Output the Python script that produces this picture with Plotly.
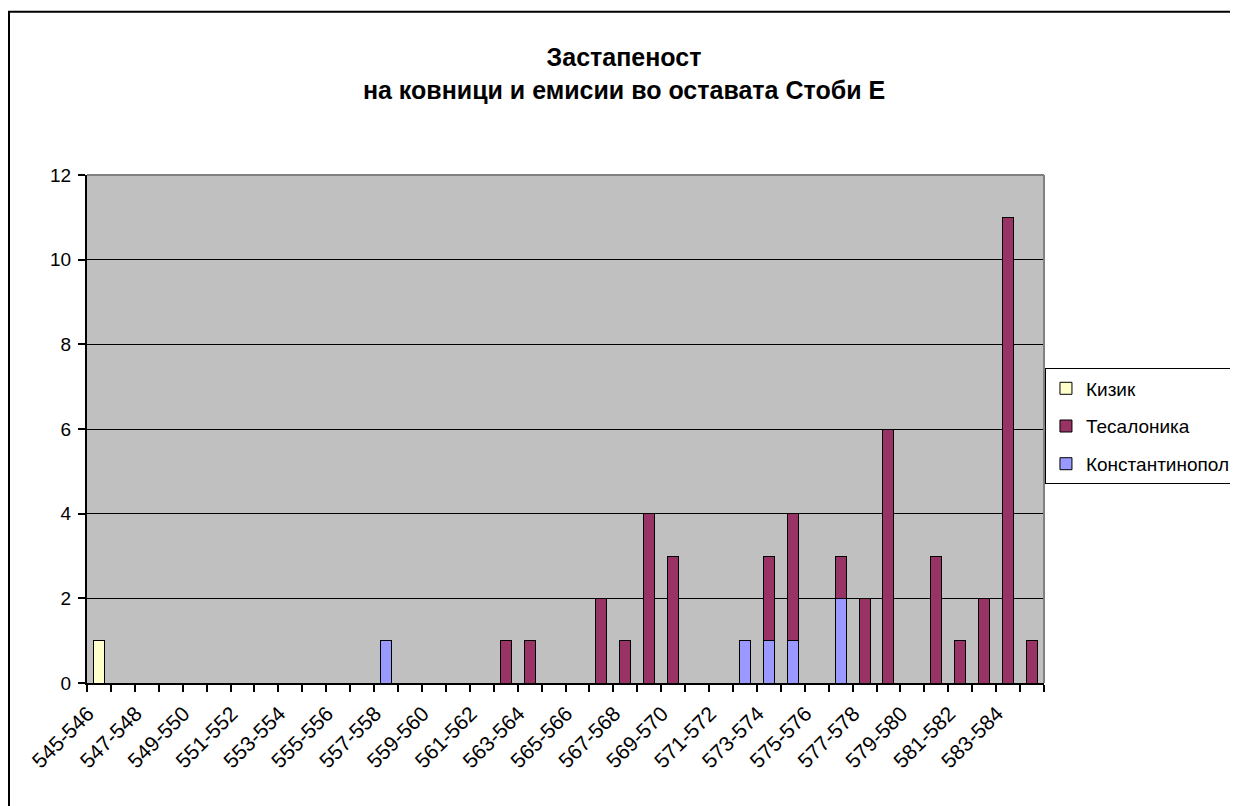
import plotly.graph_objects as go

categories = [
    "545-546", "546-547", "547-548", "548-549", "549-550", "550-551", "551-552", "552-553",
    "553-554", "554-555", "555-556", "556-557", "557-558", "558-559", "559-560", "560-561",
    "561-562", "562-563", "563-564", "564-565", "565-566", "566-567", "567-568", "568-569",
    "569-570", "570-571", "571-572", "572-573", "573-574", "574-575", "575-576", "576-577",
    "577-578", "578-579", "579-580", "580-581", "581-582", "582-583", "583-584", "584-585",
]

# Every other category gets a visible label (as in the original)
tick_labels = [c if i % 2 == 0 else "" for i, c in enumerate(categories)]

kizik = [1] + [None] * 39

tesalonika = [None, None, None, None, None, None, None, None,
              None, None, None, None, None, None, None, None,
              None, 1, 1, None, None, 2, 1, 4,
              3, None, None, None, 2, 3, None, 1,
              2, 6, None, 3, 1, 2, 11, 1]

konstantinopol = [None, None, None, None, None, None, None, None,
                  None, None, None, None, 1, None, None, None,
                  None, None, None, None, None, None, None, None,
                  None, None, None, 1, 1, 1, None, 2,
                  None, None, None, None, None, None, None, None]

# stacking order (bottom -> top) and legend rank
series_names = ["Константинопол", "Тесалоника", "Кизик"]
series_values = [konstantinopol, tesalonika, kizik]
series_colors = ["#9999FF", "#993366", "#FFFFCC"]
legend_ranks = [3, 2, 1]

FONT = "Liberation Sans, Arial, sans-serif"

fig = go.Figure()
for name, vals, col, rk in zip(series_names, series_values, series_colors, legend_ranks):
    fig.add_trace(go.Bar(
        x=categories, y=vals, name=name, legendgroup=name, legendrank=rk,
        marker=dict(color=col, line=dict(color="black", width=1)),
    ))

fig.update_layout(
    width=1238, height=806,
    barmode="stack", bargap=0.54,
    paper_bgcolor="white", plot_bgcolor="#C0C0C0",
    margin=dict(l=79, r=202, t=167, b=131, autoexpand=False),
    font=dict(family=FONT, size=19, color="black"),
    title=dict(
        text="Застапеност<br>на ковници и емисии во оставата Стоби Е",
        font=dict(family=FONT, size=25, color="black", weight="bold"),
        x=0.4976, xref="container", xanchor="center",
        y=0.9275, yref="container", yanchor="middle",
    ),
    legend=dict(
        x=1.001, xanchor="left", y=0.505, yanchor="middle",
        bgcolor="white", bordercolor="black", borderwidth=1,
        traceorder="grouped", tracegroupgap=10,
        font=dict(family=FONT, size=19, color="black"),
        itemwidth=30,
    ),
    xaxis=dict(
        type="category", automargin=False,
        tickmode="array", tickvals=categories, ticktext=tick_labels,
        tickson="boundaries", ticks="outside", ticklen=7, tickcolor="black", tickwidth=1.5,
        tickangle=-45, showgrid=False,
        ticklabelshift=-11, ticklabelstandoff=8,
        showline=True, linecolor="black", linewidth=2,
        tickfont=dict(family=FONT, size=21, color="black"),
    ),
    yaxis=dict(
        range=[0, 12], dtick=2, tick0=0, automargin=False,
        ticks="outside", ticklen=7, tickcolor="black", tickwidth=1.5,
        ticklabelstandoff=3,
        showgrid=True, gridcolor="black", gridwidth=1.2,
        zeroline=False,
        showline=True, linecolor="black", linewidth=2,
        tickfont=dict(family=FONT, size=19, color="black"),
    ),
    shapes=[
        # plot-area border (top and right), grey as in the original
        dict(type="line", xref="paper", yref="paper", x0=0, x1=1, y0=1, y1=1,
             line=dict(color="#808080", width=2), layer="above"),
        dict(type="line", xref="paper", yref="paper", x0=1, x1=1, y0=0, y1=1,
             line=dict(color="#808080", width=2), layer="above"),
        # outer chart frame
        dict(type="rect", xref="paper", yref="paper",
             x0=-0.0815, x1=1.25, y0=-0.30, y1=1.3215,
             line=dict(color="black", width=2), fillcolor="rgba(0,0,0,0)", layer="above"),
    ],
    showlegend=True,
)

fig.write_html("out.html")
